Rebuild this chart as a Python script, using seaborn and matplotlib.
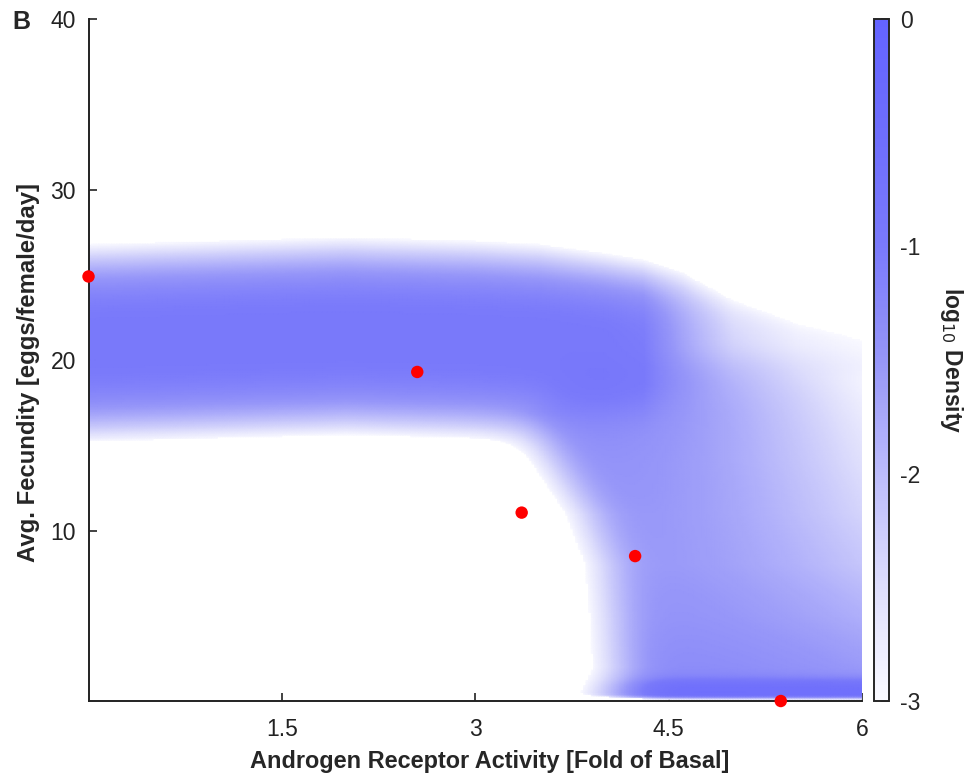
import numpy as np
import matplotlib
matplotlib.use("Agg")
import matplotlib.pyplot as plt
from matplotlib.colors import LinearSegmentedColormap
import seaborn as sns

# ---- data ----
# measured (red) points
point_x = [0.0, 2.55, 3.36, 4.24, 5.37]
point_y = [24.9, 19.3, 11.05, 8.5, 0.0]

# upper (plateau) branch of the simulated density: centre, log10 peak, half extent (y)
plat_x = [0.0, 1.0, 2.0, 3.0, 3.5, 4.0, 4.3, 4.6, 5.0, 5.5, 6.0]
plat_center = [21.0, 21.2, 21.4, 21.2, 21.0, 20.7, 20.6, 20.9, 21.0, 20.8, 20.5]
plat_peak = [-0.95, -0.95, -0.95, -0.95, -0.95, -0.97, -1.05, -1.7, -2.45, -2.85, -3.0]
plat_half = [5.8, 5.8, 5.8, 5.8, 5.8, 5.6, 5.4, 5.0, 3.9, 3.0, 2.5]

# lower (fan) branch: left edge, right edge, right softness, log10 level per y
fan_y = [0.5, 2.0, 5.0, 8.0, 11.0, 14.0, 17.0, 19.0]
fan_left = [4.25, 4.3, 4.25, 4.2, 4.05, 3.8, 3.55, 3.7]
fan_right = [6.2, 6.0, 5.5, 5.1, 4.95, 4.8, 4.65, 4.5]
fan_soft = [0.8, 0.8, 0.7, 0.6, 0.5, 0.45, 0.4, 0.4]
fan_level = [-1.15, -1.25, -1.35, -1.4, -1.4, -1.35, -1.25, -1.2]

# saturated floor line at zero fecundity
floor_level = -0.65
floor_start = 4.4

cbar_ticks = [-3, -2, -1, 0]
x_ticks = [1.5, 3, 4.5, 6]
y_ticks = [10, 20, 30, 40]

# ---- figure ----
sns.set_style("ticks")
plt.rcParams["font.family"] = ["Liberation Sans", "DejaVu Sans"]
plt.rcParams["axes.unicode_minus"] = False

fig = plt.figure(figsize=(9.77, 7.77), dpi=100)
ax = fig.add_axes([0.0906, 0.0978, 0.7917, 0.8777])
cax = fig.add_axes([0.8946, 0.0978, 0.0154, 0.8777])


def lsig(z):
    return -np.logaddexp(0, -z) / np.log(10)


xg = np.linspace(0, 6, 301)
yg = np.linspace(0, 40, 401)
X, Y = np.meshgrid(xg, yg)

yc = np.interp(X, plat_x, plat_center)
pk = np.interp(X, plat_x, plat_peak)
hf = np.interp(X, plat_x, plat_half)
plat = pk - 2.05 * (np.abs(Y - yc) / hf) ** 3

L = np.interp(Y, fan_y, fan_left)
R = np.interp(Y, fan_y, fan_right)
SR = np.interp(Y, fan_y, fan_soft)
V = np.interp(Y, fan_y, fan_level)
fan = (V + lsig((X - L) / 0.1) + lsig((R - X) / SR) + lsig((19.5 - Y) / 0.6)
       + lsig((Y - 0.3) / 0.05))

flo = (floor_level + lsig((Y - 0.3) / 0.04) + lsig((1.1 - Y) / 0.15)
       + lsig((X - floor_start) / 0.08))

Z = np.log10(10 ** plat + 10 ** fan + 10 ** flo)
Z = np.where(Z < -3, np.nan, Z)

stops = [(0.0, (250, 250, 255)), (1 / 6, (222, 222, 252)), (2 / 6, (188, 188, 250)),
         (3 / 6, (150, 150, 249)), (4 / 6, (122, 122, 250)), (5 / 6, (110, 110, 252)),
         (1.0, (100, 100, 255))]
cmap = LinearSegmentedColormap.from_list(
    "dens", [(p, tuple(c / 255 for c in col)) for p, col in stops])

mesh = ax.pcolormesh(xg, yg, Z, cmap=cmap, vmin=-3, vmax=0, shading="gouraud",
                     rasterized=True)

sns.scatterplot(x=point_x, y=point_y, ax=ax, color="#ff0000", s=80,
                edgecolor="none", clip_on=False, zorder=5)

ax.set_xlim(0, 6)
ax.set_ylim(0, 40)
ax.set_xticks(x_ticks)
ax.set_xticklabels(["1.5", "3", "4.5", "6"])
ax.set_yticks(y_ticks)
sns.despine(ax=ax)
for s in ["left", "bottom"]:
    ax.spines[s].set_linewidth(1.4)
    ax.spines[s].set_color("#222222")
ax.tick_params(direction="in", length=6, width=1.2, labelsize=16.5, colors="#222222")
ax.tick_params(axis="x", pad=12)
ax.tick_params(axis="y", pad=9)
ax.set_xlabel("Androgen Receptor Activity [Fold of Basal]", fontsize=16.9,
              fontweight="bold")
ax.set_ylabel("Avg. Fecundity [eggs/female/day]", fontsize=17.2,
              fontweight="bold")
ax.xaxis.set_label_coords(0.519, -0.072)
ax.yaxis.set_label_coords(-0.063, 0.482)

cb = fig.colorbar(mesh, cax=cax, ticks=cbar_ticks)
cb.ax.set_yticklabels(["-3", "-2", "-1", "0"])
cb.ax.tick_params(direction="in", length=6, width=1.2, labelsize=16.5, pad=8)
cb.outline.set_linewidth(1.4)
cb.set_label("log$_{10}$ Density", fontsize=16.5, fontweight="bold", rotation=270,
             labelpad=32)

fig.text(0.013, 0.972, "B", fontsize=18, fontweight="bold", va="center", ha="left")

fig.savefig("out.png", dpi=100)
